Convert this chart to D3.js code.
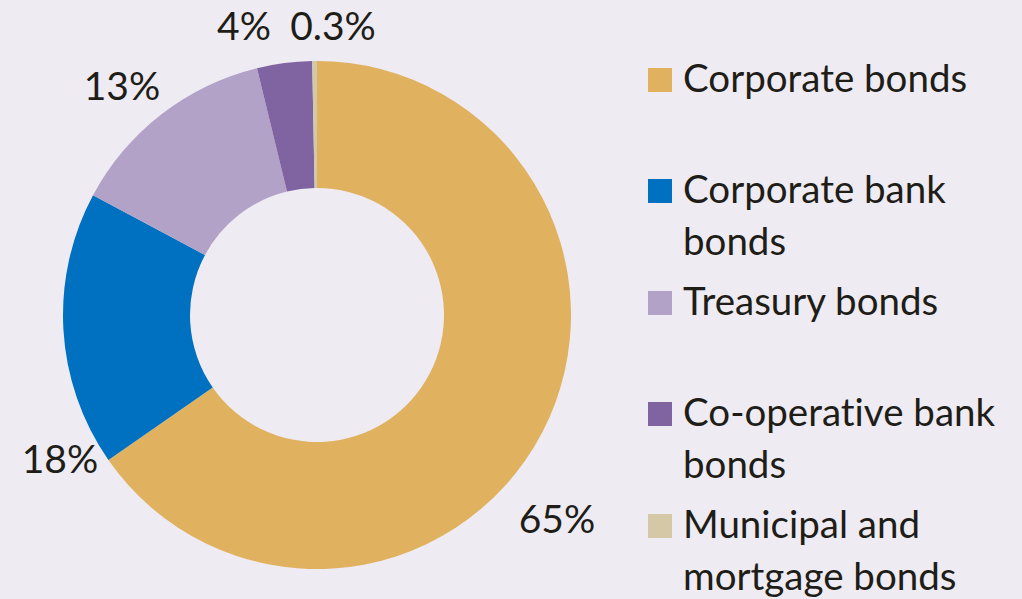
<!DOCTYPE html>
<html>
<head>
<meta charset="utf-8">
<script src="https://cdn.jsdelivr.net/npm/d3@7"></script>
<style>
  html, body { margin: 0; padding: 0; background: #eeebf3; }
  svg text { font-family: Lato, "Open Sans", sans-serif; fill: #1e1d17; font-variant-ligatures: none; }
</style>
</head>
<body>
<svg width="1022" height="599"></svg>
<script>
// data
var categories = ["Corporate bonds", "Corporate bank bonds", "Treasury bonds", "Co-operative bank bonds", "Municipal and mortgage bonds"];
var shares = [65.4, 17.5, 13.4, 3.5, 0.3];
var shareLabels = ["65%", "18%", "13%", "4%", "0.3%"];
// legend lines (wrapped like the original)
var legendLines = [["Corporate bonds"], ["Corporate bank", "bonds"], ["Treasury bonds"], ["Co-operative bank", "bonds"], ["Municipal and", "mortgage bonds"]];

var colors = ["#e0b260", "#0070c0", "#b3a2c8", "#8064a2", "#d4c8a6"];

var svg = d3.select("svg"),
    width = +svg.attr("width"),
    height = +svg.attr("height");

var cx = 317, cy = 315,
    outerR = 254, innerR = 127;

var color = d3.scaleOrdinal().domain(categories).range(colors);

var pie = d3.pie()
    .sort(null)
    .value(function(d) { return d.value; });

var arc = d3.arc()
    .innerRadius(innerR)
    .outerRadius(outerR);

var rows = categories.map(function(c, i) {
  return { name: c, value: shares[i], label: shareLabels[i] };
});

var g = svg.append("g")
    .attr("transform", "translate(" + cx + "," + cy + ")");

var arcs = pie(rows);

g.selectAll("path")
  .data(arcs)
  .enter().append("path")
    .attr("d", arc)
    .attr("fill", function(d) { return color(d.data.name); });

// data labels - hand placed outside the ring (like the excel original)
var labelPos = [[557, 533], [60, 473], [122, 100], [244, 40], [333, 40]];
svg.append("g").selectAll("text")
  .data(arcs)
  .enter().append("text")
    .attr("x", function(d, i) { return labelPos[i][0]; })
    .attr("y", function(d, i) { return labelPos[i][1]; })
    .attr("text-anchor", "middle")
    .style("font-size", "39px")
    .text(function(d) { return d.data.label; });

// legend
var legendTop = [68, 179, 291, 402, 514];
var legend = svg.append("g").attr("class", "legend");
var item = legend.selectAll("g")
  .data(categories)
  .enter().append("g")
    .attr("transform", function(d, i) { return "translate(648," + legendTop[i] + ")"; });

item.append("rect")
    .attr("width", 24)
    .attr("height", 24)
    .attr("fill", function(d) { return color(d); });

item.append("text")
    .attr("x", 35)
    .attr("y", 24)
    .style("font-size", "38.5px")
    .selectAll("tspan")
    .data(function(d, i) { return legendLines[i]; })
    .enter().append("tspan")
      .attr("x", 35)
      .attr("dy", function(d, j) { return j == 0 ? 0 : 52; })
      .text(function(d) { return d; });
</script>
</body>
</html>
